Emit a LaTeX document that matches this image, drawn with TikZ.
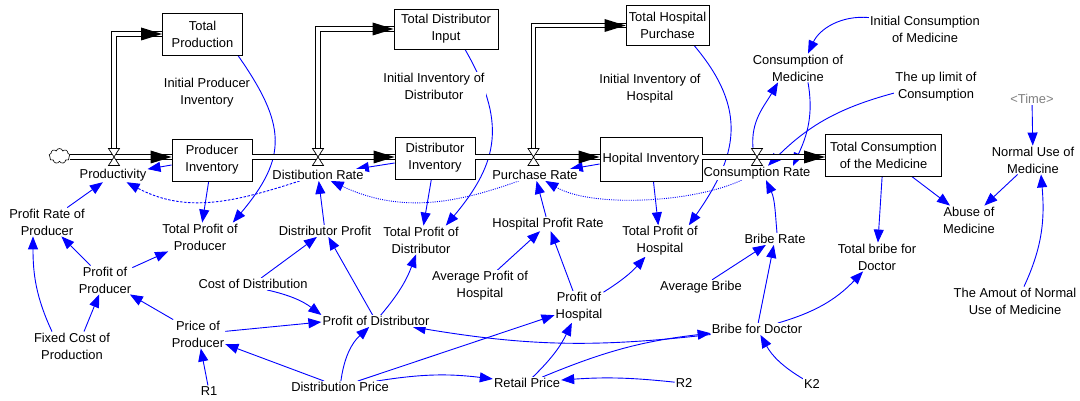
\documentclass[tikz,border=0pt]{standalone}
\usepackage{fontspec}
\setmainfont{Liberation Sans}
\usetikzlibrary{arrows.meta,shapes.symbols,backgrounds}
\definecolor{vblue}{RGB}{0,0,255}
\newcommand{\flowtip}[1]{\fill[black] (#1) -- ++(-21,6.5) -- ++(0,-13) -- cycle;}
\begin{document}
\begin{tikzpicture}[x=1pt,y=1pt,
  every node/.style={font=\fontsize{12.9pt}{17pt}\selectfont},
  stock/.style={draw=black, line width=0.8pt, fill=white, align=center, inner sep=2pt},
  var/.style={align=center, fill=white, inner sep=1pt},
  link/.style={draw=vblue, line width=0.9pt, -{Triangle[length=13pt,width=10pt]}},
  dashlink/.style={link, dash pattern=on 2.5pt off 1.5pt},
  dotlink/.style={link, dash pattern=on 1pt off 1.2pt},
  pipe/.style={draw=black, line width=0.75pt, double=white, double distance=3.6pt},
  valve/.pic={\draw[fill=white, line width=0.7pt] (-5.5,-8.5) -- (5.5,-8.5) -- (-5.5,8.5) -- (5.5,8.5) -- cycle;}
]
\useasboundingbox (0,0) rectangle (1080,-401);

% stocks
\node[stock, minimum width=80pt, minimum height=42pt] (tprod) at (202.5,-34) {Total\\Production};
\node[stock, minimum width=80pt, minimum height=42pt] (pinv) at (212,-160) {Producer\\Inventory};
\node[stock, minimum width=104pt, minimum height=40pt] (tdin) at (446,-29) {Total Distributor\\Input};
\node[stock, minimum width=80pt, minimum height=42pt] (dinv) at (435,-158) {Distributor\\Inventory};
\node[stock, minimum width=83pt, minimum height=40pt] (thp) at (667.5,-25.5) {Total Hospital\\Purchase};
\node[stock, minimum width=102pt, minimum height=44pt] (hinv) at (651,-159) {Hopital Inventory};
\node[stock, minimum width=116pt, minimum height=42pt] (tcm) at (883.5,-155) {Total Consumption\\of the Medicine};

% source cloud
\node[cloud, cloud puffs=9, aspect=1.5, draw, fill=white, line width=0.6pt, minimum width=21pt, minimum height=15pt, inner sep=0pt] (src) at (59.5,-156) {};

% valves
\coordinate (vprod) at (114,-157);
\coordinate (vdist) at (318,-157);
\coordinate (vpur) at (533.5,-157);
\coordinate (vcons) at (757,-157);

% pipes
\draw[pipe] (src.east |- vprod) -- (pinv.west |- vprod);
\draw[pipe] ([yshift=8.5pt]vprod) |- (tprod.west);
\draw[pipe] (pinv.east |- vdist) -- (dinv.west |- vdist);
\draw[pipe] ([yshift=8.5pt]vdist) |- (tdin.west);
\draw[pipe] (dinv.east |- vpur) -- (hinv.west |- vpur);
\draw[pipe] ([yshift=8.5pt]vpur) |- (thp.west);
\draw[pipe] (hinv.east |- vcons) -- (tcm.west |- vcons);
\flowtip{pinv.west |- vprod}
\flowtip{tprod.west}
\flowtip{dinv.west |- vdist}
\flowtip{tdin.west}
\flowtip{hinv.west |- vpur}
\flowtip{thp.west}
\flowtip{tcm.west |- vcons}

% variables
\node[var] (lprod) at (113,-175) {Productivity};
\node[var] (ldist) at (318,-175) {Distibution Rate};
\node[var] (lpur) at (535,-175) {Purchase Rate};
\node[var] (lcons) at (757,-173) {Consumption Rate};
\node[var] (ipi) at (207,-93) {Initial Producer\\Inventory};
\node[var] (iid) at (434,-86) {Initial Inventory of\\Distributor};
\node[var] (iih) at (650,-89) {Initial Inventory of\\Hospital};
\node[var] (icm) at (925,-29) {Initial Consumption\\of Medicine};
\node[var] (com) at (798,-68) {Consumption of\\Medicine};
\node[var] (upl) at (936,-87) {The up limit of\\Consumption};
\node[var, text=black!50] (time) at (1032,-99) {<Time>};
\node[var] (nmu) at (1033,-160) {Normal Use of\\Medicine};
\node[var] (abm) at (969,-220) {Abuse of\\Medicine};
\node[var] (tbd) at (877,-257) {Total bribe for\\Doctor};
\node[var] (brr) at (775,-239) {Bribe Rate};
\node[var] (avb) at (701,-287) {Average Bribe};
\node[var] (bfd) at (757,-329) {Bribe for Doctor};
\node[var] (k2) at (812,-384) {K2};
\node[var] (tan) at (1015,-301) {The Amout of Normal\\Use of Medicine};
\node[var] (tph) at (660,-241) {Total Profit of\\Hospital};
\node[var] (hpr) at (548,-224) {Hospital Profit Rate};
\node[var] (aph) at (480,-286) {Average Profit of\\Hospital};
\node[var] (poh) at (579,-307) {Profit of\\Hospital};
\node[var] (tpd) at (421,-240) {Total Profit of\\Distributor};
\node[var] (dpf) at (325,-231) {Distributor Profit};
\node[var] (cod) at (253,-284) {Cost of Distribution};
\node[var] (pod) at (376,-321) {Profit of Distributor};
\node[var] (dpr) at (340,-387) {Distribution Price};
\node[var] (rtp) at (527,-383) {Retail Price};
\node[var] (r2) at (684,-383) {R2};
\node[var] (r1) at (209,-391) {R1};
\node[var] (ppr) at (198,-334) {Price of\\Producer};
\node[var] (ppd) at (105,-280) {Profit of\\Producer};
\node[var] (fcp) at (72,-346) {Fixed Cost of\\Production};
\node[var] (prp) at (47,-222) {Profit Rate of\\Producer};
\node[var] (tpp) at (200,-237) {Total Profit of\\Producer};

\pic at (vprod) {valve};
\pic at (vdist) {valve};
\pic at (vpur) {valve};
\pic at (vcons) {valve};

\begin{scope}[on background layer]
\draw[link] ([xshift=-5pt]tprod.south east) to[out=-55,in=50,looseness=1.3] ([xshift=-6pt]tpp.north east);
\draw[link] (pinv) -- (tpp);
\draw[link] ([yshift=-5pt]pinv.west) -- (lprod);
\draw[dashlink] (ldist) to[out=-162,in=-28] (lprod);
\draw[link] (prp) -- (lprod);
\draw[link] (ppd) -- (prp);
\draw[link] ([xshift=-20pt]fcp.north) to[out=115,in=-90] ([xshift=-14pt]prp.south);
\draw[link] ([xshift=12pt]fcp.north) -- (ppd);
\draw[link] (ppr) -- (ppd);
\draw[link] (ppd) -- (tpp);
\draw[link] (r1) -- (ppr);
\draw[link] (dpr) -- (ppr);
\draw[link] (ppr) -- ([yshift=-1pt]pod.west);
\draw[link] ([xshift=14pt]cod.south) to[bend left=12] ([yshift=6pt]pod.west);
\draw[link] (cod) -- (dpf);
\draw[link] (pod) -- (dpf);
\draw[link] (pod) to[bend right=10] (tpd);
\draw[link] (dpr) to[bend left=20] (pod);
\draw[link] (dpr) to[bend left=8] (rtp);
\draw[link] (dpr) -- (poh);
\draw[link] (r2) to[bend right=5] (rtp);
\draw[link] (rtp) to[bend right=10] (poh);
\draw[link] (rtp) to[bend left=8] (bfd);
\draw[link] (bfd) to[bend left=8] (pod);
\draw[link] (dpf) -- (ldist);
\draw[link] ([yshift=-5pt]dinv.west) -- (ldist);
\draw[link] (dinv) -- (tpd);
\draw[link] ([xshift=19pt]tdin.south) to[out=-60,in=50,looseness=1.2] ([xshift=-14pt]tpd.north east);
\draw[dotlink] (lpur) to[out=-160,in=-25] (ldist);
\draw[link] ([yshift=-5pt]hinv.west) -- (lpur);
\draw[link] (hpr) -- (lpur);
\draw[link] (aph) -- (hpr);
\draw[link] (poh) -- (hpr);
\draw[link] (poh) to[bend right=8] (tph);
\draw[link] (hinv) -- (tph);
\draw[link] ([xshift=27pt]thp.south) to[out=-50,in=55,looseness=1.2] ([xshift=-10pt]tph.north east);
\draw[dotlink] (lcons) to[out=-155,in=-30,looseness=0.7] (lpur);
\draw[link] ([xshift=-4pt,yshift=9pt]vcons) to[out=95,in=-120] ([xshift=-20pt]com.south);
\draw[link] ([xshift=10pt]com.south) to[out=-80,in=65] ([xshift=36pt]lcons.north);
\draw[link] ([yshift=-3pt]icm.north west) to[out=175,in=65] ([xshift=10pt]com.north);
\draw[link] ([yshift=-6pt]upl.west) to[out=-165,in=45] ([xshift=11pt]lcons.north);
\draw[link] ([xshift=2pt]brr.north) to[out=95,in=-65] ([xshift=9pt]lcons.south);
\draw[link] (avb) -- (brr);
\draw[link] (bfd) -- (brr);
\draw[link] (bfd) to[bend right=15] (tbd);
\draw[link] (k2) to[bend left=15] (bfd);
\draw[link] (tcm) -- (tbd);
\draw[link] (tcm) -- (abm);
\draw[link] (nmu) -- (abm);
\draw[link] (time) -- (nmu);
\draw[link] ([xshift=9pt]tan.north) to[out=65,in=-85] ([xshift=8pt]nmu.south);
\end{scope}
\end{tikzpicture}
\end{document}
